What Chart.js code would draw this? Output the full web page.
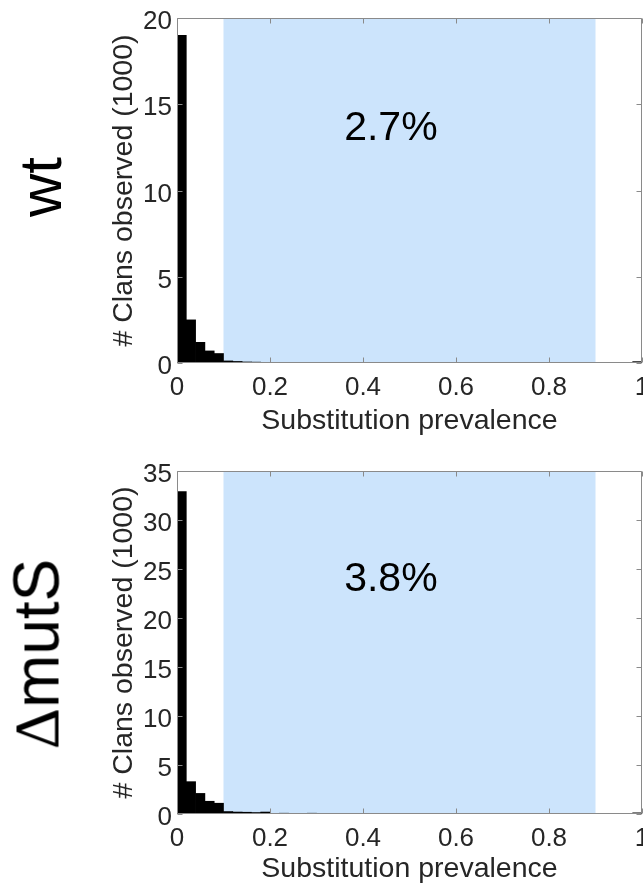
<!DOCTYPE html>
<html>
<head>
<meta charset="utf-8">
<script src="https://cdn.jsdelivr.net/npm/chart.js@4.4.1/dist/chart.umd.min.js"></script>
<style>
  html, body { margin: 0; padding: 0; background: #fff; }
  body { width: 643px; height: 886px; position: relative; overflow: hidden; font-family: "Liberation Sans", Arial, sans-serif; }
  canvas { position: absolute; left: 0; }
  #c1 { top: 0; }
  #c2 { top: 443px; }
  .side { position: absolute; color: #000; white-space: nowrap; transform: translate(-50%, -50%) rotate(-90deg); line-height: 1; }
  .delta { font-family: "Liberation Serif", "DejaVu Serif", serif; }
</style>
</head>
<body>
<canvas id="c1" width="643" height="443"></canvas>
<canvas id="c2" width="643" height="443"></canvas>
<div class="side" style="left:41px; top:187px; font-size:60px;">wt</div>
<div class="side" style="left:37px; top:654px; font-size:64px;"><span class="delta">Δ</span>mutS</div>
<script>
// ---- data ----
const binCenters = [0.01, 0.03, 0.05, 0.07, 0.09, 0.11, 0.13, 0.15, 0.17, 0.19,
                    0.21, 0.23, 0.25, 0.27, 0.29, 0.31, 0.33, 0.35, 0.37, 0.39,
                    0.41, 0.43, 0.45, 0.47, 0.49, 0.51, 0.53, 0.55, 0.57, 0.59,
                    0.61, 0.63, 0.65, 0.67, 0.69, 0.71, 0.73, 0.75, 0.77, 0.79,
                    0.81, 0.83, 0.85, 0.87, 0.89, 0.91, 0.93, 0.95, 0.97, 0.99];
const wtCounts = [19.0, 2.5, 1.2, 0.7, 0.55, 0.12, 0.09, 0.06, 0.05, 0.04,
                  0.03, 0.02, 0.02, 0.015, 0.01, 0.01, 0.01, 0.008, 0.006, 0.005,
                  0.005, 0.004, 0.004, 0.003, 0.003, 0.003, 0.002, 0.002, 0.002, 0.002,
                  0.002, 0.002, 0.002, 0.002, 0.002, 0.002, 0.002, 0.002, 0.002, 0.002,
                  0.002, 0.002, 0.003, 0.003, 0.003, 0.004, 0.005, 0.006, 0.01, 0.08];
const mutSCounts = [32.9, 3.3, 2.1, 1.3, 1.1, 0.25, 0.2, 0.18, 0.15, 0.2,
                    0.06, 0.08, 0.04, 0.05, 0.08, 0.03, 0.02, 0.02, 0.02, 0.015,
                    0.01, 0.01, 0.01, 0.01, 0.01, 0.01, 0.01, 0.01, 0.01, 0.01,
                    0.01, 0.01, 0.01, 0.01, 0.01, 0.01, 0.01, 0.01, 0.01, 0.01,
                    0.01, 0.01, 0.01, 0.01, 0.01, 0.01, 0.015, 0.02, 0.03, 0.12];
const wtYMax = 20;
const mutSYMax = 35;
const yStep = 5;
const xStep = 0.2;
const xTickLabels = ['0', '0.2', '0.4', '0.6', '0.8', '1'];
const shadeRange = [0.1, 0.9];
const pctLabels = ['2.7%', '3.8%'];
const pctValuePos = [[0.46, 13.6], [0.46, 23.9]];
const xTitle = 'Substitution prevalence';
const yTitle = '# Clans observed (1000)';

// ---- drawing ----
const AXIS_GRAY = '#8a8a8a';
const TEXT = '#262626';

const boxPlugin = {
  id: 'box',
  beforeDatasetsDraw(chart) {
    const { ctx, chartArea: a, scales: { x } } = chart;
    const x0 = x.getPixelForValue(shadeRange[0]);
    const x1 = x.getPixelForValue(shadeRange[1]);
    ctx.save();
    ctx.fillStyle = 'rgb(204,228,252)';
    ctx.fillRect(x0, a.top, x1 - x0, a.bottom - a.top);
    ctx.restore();
  },
  afterDatasetsDraw(chart, args, opts) {
    const { ctx, chartArea: a, scales: { x, y } } = chart;
    ctx.save();
    ctx.strokeStyle = AXIS_GRAY;
    ctx.lineWidth = 1;
    const L = Math.round(a.left) + 0.5, R = Math.round(a.right) - 0.5;
    const T = Math.round(a.top) + 0.5, B = Math.round(a.bottom) - 0.5;
    ctx.beginPath();
    ctx.rect(L, T, R - L, B - T);
    ctx.stroke();
    const tl = 5;
    ctx.beginPath();
    y.ticks.forEach(t => {
      const py = Math.round(y.getPixelForValue(t.value)) + 0.5;
      ctx.moveTo(L, py); ctx.lineTo(L + tl, py);
      ctx.moveTo(R, py); ctx.lineTo(R - tl, py);
    });
    x.ticks.forEach(t => {
      const px = Math.round(x.getPixelForValue(t.value)) + 0.5;
      ctx.moveTo(px, B); ctx.lineTo(px, B - tl);
      ctx.moveTo(px, T); ctx.lineTo(px, T + tl);
    });
    ctx.stroke();
    // percentage label
    ctx.fillStyle = '#000';
    ctx.font = '41px "Liberation Sans", Arial, sans-serif';
    ctx.textAlign = 'center';
    ctx.textBaseline = 'middle';
    ctx.fillText(opts.label, x.getPixelForValue(opts.pos[0]), y.getPixelForValue(opts.pos[1]));
    ctx.restore();
  }
};

function makeChart(id, counts, yMax, label, pos, padTop, padBottom, xAxisH) {
  return new Chart(document.getElementById(id), {
    type: 'bar',
    data: {
      datasets: [{
        data: binCenters.map((c, i) => ({ x: c, y: counts[i] })),
        backgroundColor: '#000',
        borderColor: '#000',
        borderWidth: 0,
        categoryPercentage: 1.0,
        barPercentage: 1.0
      }]
    },
    options: {
      responsive: false,
      animation: false,
      devicePixelRatio: 1,
      layout: { padding: { left: 107, right: 1, top: padTop, bottom: padBottom } },
      plugins: {
        legend: { display: false },
        tooltip: { enabled: false },
        box: { label: label, pos: pos }
      },
      scales: {
        x: {
          type: 'linear',
          min: 0, max: 1,
          offset: false,
          grid: { display: false, drawTicks: false, offset: false },
          border: { display: false },
          ticks: {
            stepSize: xStep,
            maxRotation: 0,
            padding: 9,
            color: TEXT,
            font: { family: '"Liberation Sans", Arial, sans-serif', size: 26 },
            callback: (v, i) => xTickLabels[i]
          },
          title: {
            display: true,
            text: xTitle,
            color: TEXT,
            padding: { top: 0, bottom: 0 },
            font: { family: '"Liberation Sans", Arial, sans-serif', size: 28.5 }
          },
          afterFit: s => { s.height = xAxisH; s.paddingLeft = 0; s.paddingRight = 0; }
        },
        y: {
          min: 0, max: yMax,
          grid: { display: false, drawTicks: false },
          border: { display: false },
          ticks: {
            stepSize: yStep,
            padding: 5,
            labelOffset: 4,
            color: TEXT,
            font: { family: '"Liberation Sans", Arial, sans-serif', size: 26 }
          },
          title: {
            display: true,
            text: yTitle,
            color: TEXT,
            padding: { top: 0, bottom: 0 },
            font: { family: '"Liberation Sans", Arial, sans-serif', size: 28.5 }
          },
          afterFit: s => { s.width = 70; s.paddingTop = 0; s.paddingBottom = 0; }
        }
      }
    },
    plugins: [boxPlugin]
  });
}

makeChart('c1', wtCounts, wtYMax, pctLabels[0], pctValuePos[0], 18, 5, 75);
makeChart('c2', mutSCounts, mutSYMax, pctLabels[1], pctValuePos[1], 28, 0, 72);
</script>
</body>
</html>
